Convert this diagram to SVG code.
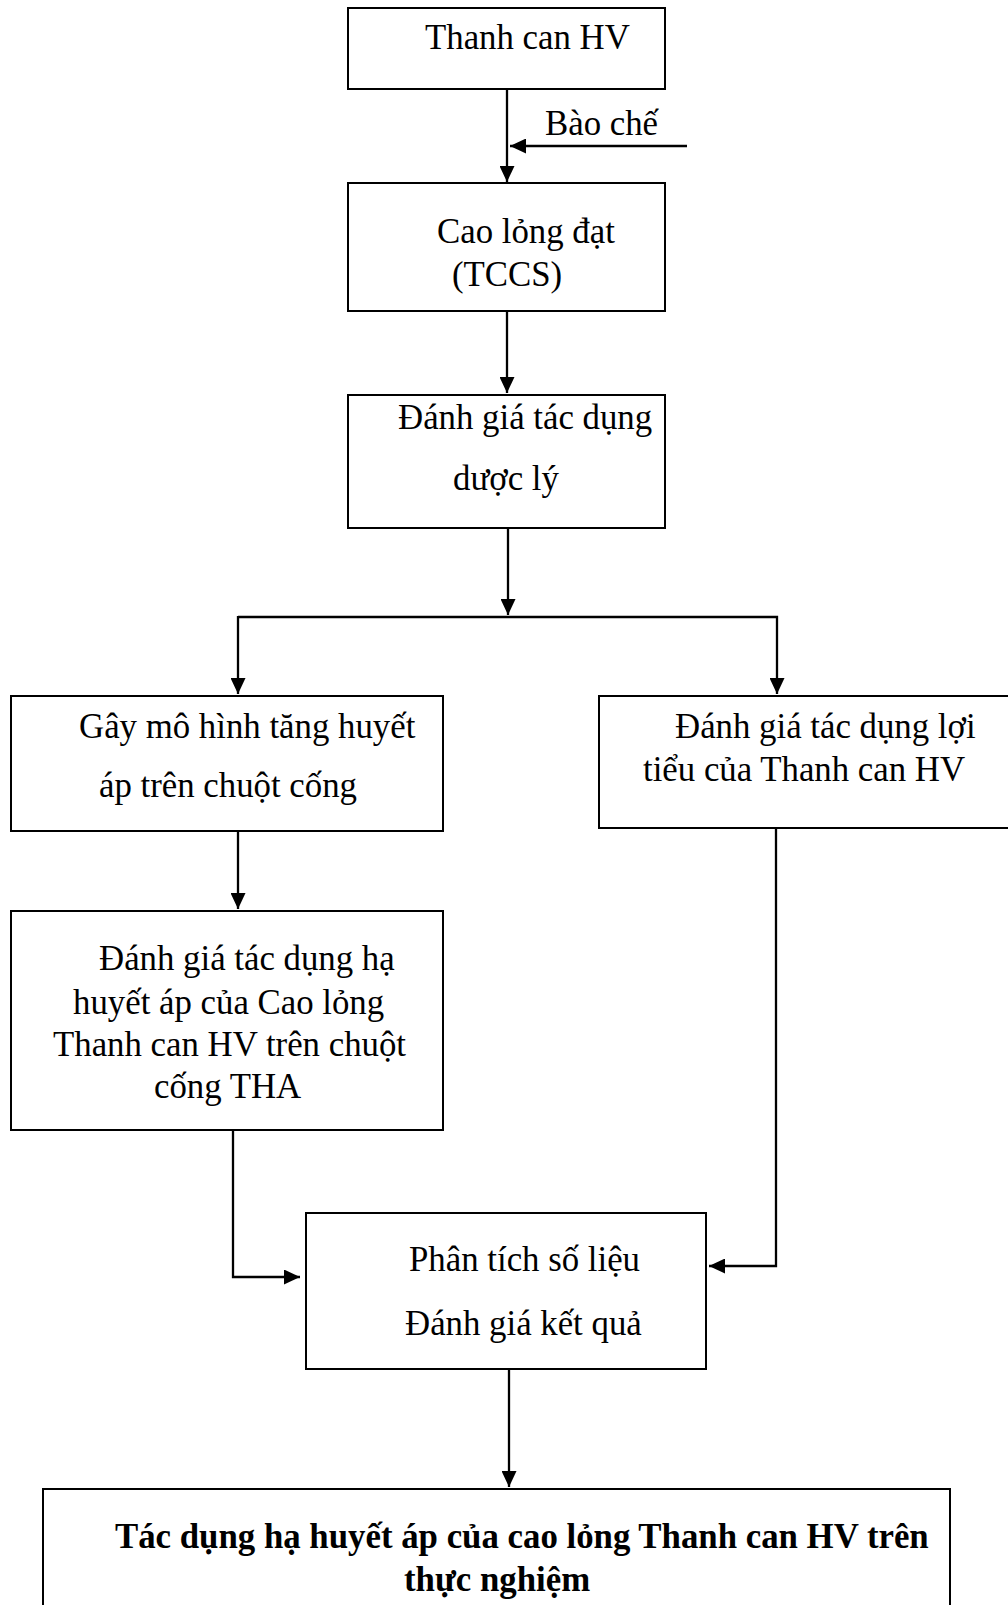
<svg xmlns="http://www.w3.org/2000/svg" width="1008" height="1605" viewBox="0 0 1008 1605">
<style>
.box{fill:#fff;stroke:#000;stroke-width:2}
.t{font-family:"Liberation Serif","Times New Roman",serif;font-size:34.8px;fill:#000}
.b{font-weight:bold}
.c{fill:none;stroke:#000;stroke-width:2.3}
</style>
<defs>
<marker id="ah" viewBox="0 0 16 15" refX="16" refY="7.5" markerWidth="16" markerHeight="15" markerUnits="userSpaceOnUse" orient="auto">
<path d="M0,0 L16,7.5 L0,15 Z" fill="#000"/>
</marker>
</defs>
<rect width="1008" height="1605" fill="#fff"/>
<g id="connectors">
<line class="c" x1="507" y1="89" x2="507" y2="182" marker-end="url(#ah)"/>
<line class="c" x1="687" y1="146" x2="510" y2="146" marker-end="url(#ah)"/>
<line class="c" x1="507" y1="311" x2="507" y2="393" marker-end="url(#ah)"/>
<line class="c" x1="508" y1="528" x2="508" y2="615" marker-end="url(#ah)"/>
<polyline class="c" points="238,617 777,617 777,694" marker-end="url(#ah)"/>
<line class="c" x1="238" y1="616" x2="238" y2="694" marker-end="url(#ah)"/>
<line class="c" x1="238" y1="831" x2="238" y2="909" marker-end="url(#ah)"/>
<polyline class="c" points="233,1130 233,1277 300,1277" marker-end="url(#ah)"/>
<polyline class="c" points="776,828 776,1266 709,1266" marker-end="url(#ah)"/>
<line class="c" x1="509" y1="1369" x2="509" y2="1487" marker-end="url(#ah)"/>
</g>
<g id="n1"><rect class="box" x="348" y="8" width="317" height="81"/><text class="t" x="425" y="49">Thanh can HV</text></g>
<g id="lbl"><text class="t" x="545" y="135">Bào chế</text></g>
<g id="n2"><rect class="box" x="348" y="183" width="317" height="128"/><text class="t" x="437" y="243">Cao lỏng đạt</text><text class="t" x="452" y="286">(TCCS)</text></g>
<g id="n3"><rect class="box" x="348" y="395" width="317" height="133"/><text class="t" x="398" y="429">Đánh giá tác dụng</text><text class="t" x="453" y="490">dược lý</text></g>
<g id="n4"><rect class="box" x="11" y="696" width="432" height="135"/><text class="t" x="79" y="738">Gây mô hình tăng huyết</text><text class="t" x="99" y="797">áp trên chuột cống</text></g>
<g id="n6"><rect class="box" x="599" y="696" width="420" height="132"/><text class="t" x="675" y="738">Đánh giá tác dụng lợi</text><text class="t" x="643" y="781">tiểu của Thanh can HV</text></g>
<g id="n5"><rect class="box" x="11" y="911" width="432" height="219"/><text class="t" x="99" y="970">Đánh giá tác dụng hạ</text><text class="t" x="73" y="1014">huyết áp của Cao lỏng</text><text class="t" x="53" y="1056">Thanh can HV trên chuột</text><text class="t" x="154" y="1098">cống THA</text></g>
<g id="n7"><rect class="box" x="306" y="1213" width="400" height="156"/><text class="t" x="409" y="1271">Phân tích số liệu</text><text class="t" x="405" y="1335">Đánh giá kết quả</text></g>
<g id="n8"><rect class="box" x="43" y="1489" width="907" height="130"/><text class="t b" x="115" y="1548">Tác dụng hạ huyết áp của cao lỏng Thanh can HV trên</text><text class="t b" x="404" y="1591">thực nghiệm</text></g>
</svg>
